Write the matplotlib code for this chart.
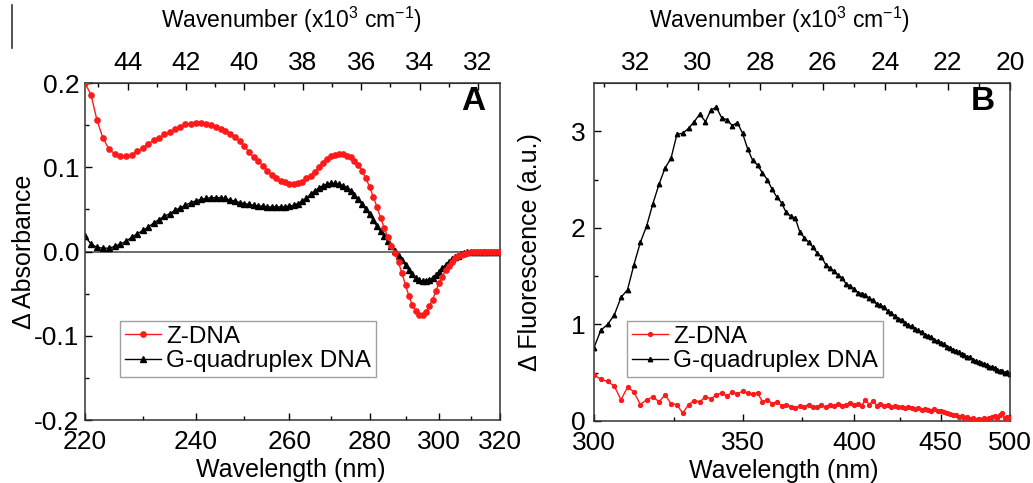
import numpy as np
import matplotlib
matplotlib.use("Agg")
import matplotlib.pyplot as plt
from matplotlib.lines import Line2D

plt.rcParams['font.family'] = ['Liberation Sans', 'DejaVu Sans']
plt.rcParams['mathtext.fontset'] = 'custom'
plt.rcParams['mathtext.rm'] = 'Liberation Sans'
plt.rcParams['mathtext.default'] = 'regular'

# panel A: difference absorbance, 220-320 nm in 1 nm steps
wl_abs = np.arange(220, 321)
z_abs = [0.200, 0.186, 0.156, 0.135, 0.122, 0.116, 0.113, 0.113, 0.115, 0.119,
         0.123, 0.128, 0.132, 0.135, 0.139, 0.142, 0.145, 0.148, 0.151, 0.152,
         0.153, 0.153, 0.152, 0.150, 0.148, 0.146, 0.143, 0.140, 0.136, 0.131,
         0.125, 0.118, 0.112, 0.108, 0.102, 0.096, 0.091, 0.087, 0.084, 0.082,
         0.080, 0.080, 0.081, 0.083, 0.087, 0.090, 0.095, 0.100, 0.105, 0.110,
         0.113, 0.115, 0.116, 0.116, 0.114, 0.112, 0.108, 0.103, 0.096, 0.087,
         0.077, 0.065, 0.053, 0.040, 0.028, 0.017, 0.007, -0.002, -0.013, -0.026,
         -0.040, -0.053, -0.064, -0.071, -0.075, -0.075, -0.072, -0.065, -0.057, -0.047,
         -0.037, -0.030, -0.022, -0.017, -0.012, -0.008, -0.005, -0.004, -0.003, -0.002,
         -0.001, -0.001, 0.000, 0.000, 0.000, 0.000, 0.000, 0.000, 0.000, 0.000, 0.000]
g_abs = [0.018, 0.009, 0.005, 0.004, 0.004, 0.006, 0.009, 0.012, 0.017, 0.021,
         0.025, 0.029, 0.034, 0.038, 0.042, 0.045, 0.049, 0.052, 0.055, 0.058,
         0.060, 0.062, 0.063, 0.064, 0.064, 0.064, 0.063, 0.061, 0.060, 0.058,
         0.057, 0.056, 0.055, 0.054, 0.054, 0.053, 0.053, 0.053, 0.053, 0.053,
         0.054, 0.055, 0.057, 0.060, 0.063, 0.068, 0.072, 0.075, 0.078, 0.080,
         0.081, 0.081, 0.080, 0.078, 0.076, 0.072, 0.067, 0.062, 0.056, 0.050,
         0.044, 0.037, 0.030, 0.024, 0.018, 0.012, 0.007, 0.001, -0.005, -0.010,
         -0.016, -0.022, -0.027, -0.031, -0.034, -0.035, -0.035, -0.034, -0.031, -0.028,
         -0.024, -0.020, -0.016, -0.012, -0.009, -0.007, -0.005, -0.003, -0.002, -0.001,
         0.000, 0.000, 0.000, 0.000, 0.000, 0.000, 0.000, 0.000, 0.000, 0.000, 0.000]

# panel B: difference fluorescence, 300-500 nm in 2 nm steps
wl_fl = np.arange(300, 501, 2)
z_fl = [0.48, 0.43, 0.41, 0.36, 0.22, 0.35, 0.30, 0.17, 0.22, 0.25,
        0.20, 0.27, 0.18, 0.17, 0.08, 0.17, 0.21, 0.20, 0.25, 0.23,
        0.27, 0.29, 0.26, 0.30, 0.28, 0.31, 0.29, 0.28, 0.29, 0.20,
        0.22, 0.18, 0.20, 0.16, 0.17, 0.15, 0.13, 0.16, 0.15, 0.17,
        0.14, 0.15, 0.17, 0.14, 0.17, 0.16, 0.18, 0.16, 0.17, 0.19,
        0.17, 0.18, 0.16, 0.22, 0.17, 0.21, 0.16, 0.18, 0.16, 0.17,
        0.15, 0.16, 0.14, 0.15, 0.13, 0.14, 0.13, 0.12, 0.13, 0.11,
        0.12, 0.11, 0.10, 0.12, 0.10, 0.10, 0.09, 0.08, 0.07, 0.06,
        0.06, 0.04, 0.05, 0.03, 0.04, 0.02, 0.03, 0.01, 0.02, 0.01,
        0.03, 0.02, 0.03, 0.04, 0.05, 0.03, 0.06, 0.08, 0.03, 0.04, 0.03]
g_fl = [0.76, 0.94, 1.00, 1.10, 1.28, 1.36, 1.62, 1.85, 2.02, 2.25,
        2.45, 2.62, 2.72, 2.97, 2.98, 3.03, 3.10, 3.18, 3.10, 3.22,
        3.25, 3.14, 3.12, 3.06, 3.09, 2.98, 2.82, 2.70, 2.65, 2.57,
        2.50, 2.40, 2.32, 2.26, 2.16, 2.12, 2.10, 1.96, 1.90, 1.85,
        1.80, 1.74, 1.70, 1.62, 1.58, 1.55, 1.51, 1.48, 1.42, 1.40,
        1.37, 1.33, 1.32, 1.30, 1.27, 1.25, 1.21, 1.20, 1.18, 1.14,
        1.12, 1.09, 1.06, 1.05, 1.01, 0.99, 0.98, 0.95, 0.94, 0.92,
        0.89, 0.88, 0.87, 0.84, 0.83, 0.81, 0.80, 0.77, 0.76, 0.74,
        0.72, 0.71, 0.69, 0.68, 0.66, 0.66, 0.63, 0.62, 0.61, 0.60,
        0.59, 0.58, 0.56, 0.56, 0.55, 0.53, 0.52, 0.52, 0.50, 0.51, 0.49]

labels = ["Z-DNA", "G-quadruplex DNA"]

TICK_FS = 19
LABEL_FS = 18


def wn(wl):
    # wavelength (nm) -> wavenumber (x10^3 cm^-1)
    return 1e4 / np.asarray(wl, dtype=float)


def setup(ax, wl_lim, wl_major, wl_minor, wn_major, wn_minor, xlab_x, toplab_x, ypad):
    ax.set_xlim(wn(wl_lim[0]), wn(wl_lim[1]))
    ax.set_xticks(wn(wl_major))
    ax.set_xticklabels([str(v) for v in wl_major])
    ax.set_xticks(wn(wl_minor), minor=True)
    ax.tick_params(axis='x', which='both', direction='in', top=False, labelsize=TICK_FS, pad=7)
    ax.tick_params(axis='y', which='both', direction='in', right=False, labelsize=TICK_FS, pad=ypad)
    ax.tick_params(which='major', length=5, width=1)
    ax.tick_params(which='minor', length=3, width=1)
    top = ax.secondary_xaxis('top', functions=(lambda x: x, lambda x: x))
    top.set_xticks(wn_major)
    top.set_xticklabels([str(v) for v in wn_major])
    top.set_xticks(wn_minor, minor=True)
    top.tick_params(axis='x', which='both', direction='in', labelsize=TICK_FS, pad=6)
    top.tick_params(which='major', length=5, width=1)
    top.tick_params(which='minor', length=3, width=1)
    top.set_xlabel("Wavenumber (x10$^{3}$ cm$^{-1}$)", fontsize=16.5)
    top.xaxis.set_label_coords(toplab_x, 1.163, transform=ax.transAxes)
    for s in ax.spines.values():
        s.set_linewidth(1.1)
        s.set_color('#333333')
    top.spines['top'].set_color('#333333')
    ax.set_xlabel("Wavelength (nm)", fontsize=LABEL_FS)
    ax.xaxis.set_label_coords(xlab_x, -0.112)
    return top


fig = plt.figure(figsize=(10.33, 4.83), dpi=100)
axA = fig.add_axes([0.0823, 0.1304, 0.4017, 0.6976])
axB = fig.add_axes([0.575, 0.1284, 0.4027, 0.6996])

leg_kw = dict(loc='lower left', borderaxespad=0, fontsize=17.5, fancybox=False,
              edgecolor='#888888', numpoints=1, handlelength=1.5, handletextpad=0.2,
              labelspacing=0.1, borderpad=0.2)

# panel A
axA.axhline(0, color='#555555', lw=1.2, zorder=1)
axA.plot(wn(wl_abs), z_abs, '-o', color='#ff1a1a', lw=1.0, ms=3.8, label=labels[0], zorder=3)
axA.plot(wn(wl_abs), g_abs, '-^', color='black', lw=1.0, ms=4.0, label=labels[1], zorder=2)
setup(axA, (220, 320), [220, 240, 260, 280, 300, 320], [230, 250, 270, 290, 310],
      [44, 42, 40, 38, 36, 34, 32], [45, 43, 41, 39, 37, 35, 33], 0.497, 0.497, 4)
axA.set_ylim(-0.2, 0.2)
axA.set_yticks([-0.2, -0.1, 0.0, 0.1, 0.2])
axA.set_yticklabels(["-0.2", "-0.1", "0.0", "0.1", "0.2"])
axA.set_yticks([-0.15, -0.05, 0.05, 0.15], minor=True)
axA.set_ylabel("\u0394 Absorbance", fontsize=LABEL_FS)
axA.yaxis.set_label_coords(-0.118, 0.5)
axA.text(0.935, 0.945, "A", transform=axA.transAxes, fontsize=24, fontweight='bold',
         ha='center', va='center')
legA = axA.legend(bbox_to_anchor=(0.084, 0.128), **leg_kw)
legA.get_frame().set_linewidth(1.0)

# panel B
axB.plot(wn(wl_fl), z_fl, '-o', color='#ff1a1a', lw=1.0, ms=2.8, label=labels[0], zorder=3)
axB.plot(wn(wl_fl), g_fl, '-^', color='black', lw=1.0, ms=3.2, label=labels[1], zorder=2)
setup(axB, (300, 500), [300, 350, 400, 450, 500], [325, 375, 425, 475],
      [32, 30, 28, 26, 24, 22, 20], [33, 31, 29, 27, 25, 23, 21], 0.457, 0.445, 6)
axB.set_ylim(0, 3.5)
axB.set_yticks([0, 1, 2, 3])
axB.set_yticks([0.5, 1.5, 2.5], minor=True)
axB.set_ylabel("\u0394 Fluorescence (a.u.)", fontsize=LABEL_FS)
axB.yaxis.set_label_coords(-0.124, 0.5)
axB.text(0.935, 0.945, "B", transform=axB.transAxes, fontsize=24, fontweight='bold',
         ha='center', va='center')
legB = axB.legend(bbox_to_anchor=(0.079, 0.13), **leg_kw)
legB.get_frame().set_linewidth(1.0)

# stray border line at the left edge of the original figure
fig.add_artist(Line2D([0.012, 0.012], [0.90, 0.99], transform=fig.transFigure,
                      color='#333333', lw=1.2))

fig.savefig("out.png", dpi=100)
